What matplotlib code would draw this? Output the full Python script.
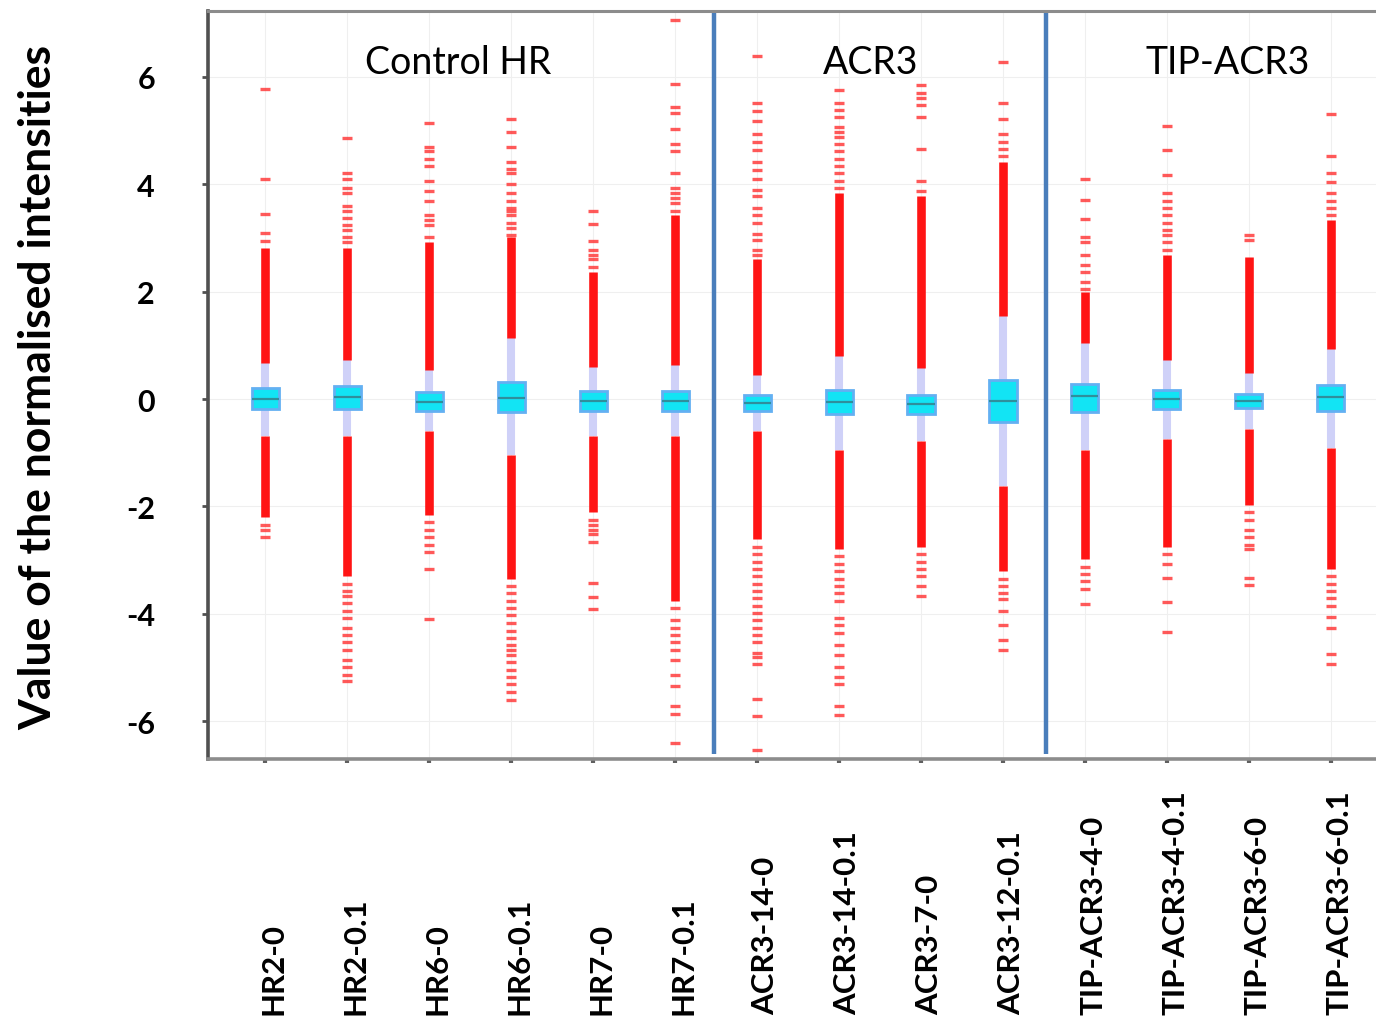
import matplotlib
matplotlib.use("Agg")
import matplotlib.pyplot as plt
import numpy as np

plt.rcParams['font.family'] = ['Lato', 'DejaVu Sans']

# sample names, in plotting order
names = ["HR2-0", "HR2-0.1", "HR6-0", "HR6-0.1", "HR7-0", "HR7-0.1",
         "ACR3-14-0", "ACR3-14-0.1", "ACR3-7-0", "ACR3-12-0.1",
         "TIP-ACR3-4-0", "TIP-ACR3-4-0.1", "TIP-ACR3-6-0", "TIP-ACR3-6-0.1"]

groups = ["Control HR", "ACR3", "TIP-ACR3"]
group_centres = [2.35, 7.38, 11.74]
separators = [5.48, 9.52]

# box stats
medians = [0.00, 0.03, -0.05, 0.02, -0.04, -0.04, -0.07, -0.05, -0.10, -0.04, 0.05, 0.00, -0.03, 0.04]
q1 = [-0.19, -0.19, -0.22, -0.24, -0.22, -0.22, -0.22, -0.28, -0.28, -0.42, -0.24, -0.19, -0.16, -0.22]
q3 = [0.20, 0.24, 0.13, 0.31, 0.15, 0.15, 0.08, 0.16, 0.08, 0.36, 0.28, 0.17, 0.10, 0.27]
whis_lo = [-0.69, -0.68, -0.60, -1.04, -0.68, -0.69, -0.60, -0.95, -0.79, -1.61, -0.95, -0.74, -0.56, -0.92]
whis_hi = [0.68, 0.72, 0.54, 1.13, 0.60, 0.63, 0.45, 0.81, 0.58, 1.54, 1.04, 0.72, 0.48, 0.93]

# where the solid runs of outliers end
dense_top = [2.82, 2.82, 2.92, 3.01, 2.37, 3.42, 2.60, 3.83, 3.78, 4.42, 2.00, 2.69, 2.64, 3.33]
dense_bottom = [-2.20, -3.30, -2.16, -3.35, -2.11, -3.76, -2.61, -2.80, -2.75, -3.21, -2.98, -2.75, -1.97, -3.16]

# separate outlier dashes beyond the solid runs
fliers = [
    [5.77, 4.10, 3.44, 3.10, 2.94, -2.34, -2.43, -2.57],
    [4.86, 4.20, 4.10, 3.92, 3.83, 3.60, 3.51, 3.37, 3.24, 3.14, 3.01, 2.92,
     -3.44, -3.57, -3.67, -3.80, -3.94, -4.08, -4.26, -4.40, -4.53, -4.67, -4.85, -4.99, -5.13, -5.25],
    [5.14, 4.70, 4.61, 4.47, 4.33, 4.06, 3.88, 3.69, 3.42, 3.33, 3.24, 3.01,
     -2.29, -2.43, -2.57, -2.71, -2.84, -3.16, -4.10],
    [5.22, 4.97, 4.70, 4.42, 4.29, 4.20, 4.01, 3.83, 3.69, 3.56, 3.51, 3.42, 3.28, 3.19, 3.05,
     -3.48, -3.62, -3.76, -3.89, -4.03, -4.17, -4.31, -4.44, -4.58, -4.67, -4.76, -4.90,
     -5.04, -5.17, -5.31, -5.45, -5.61],
    [3.51, 3.25, 2.94, 2.78, 2.69, 2.60, 2.46,
     -2.25, -2.34, -2.43, -2.52, -2.66, -3.42, -3.69, -3.91],
    [7.06, 5.87, 5.43, 5.32, 5.02, 4.74, 4.61, 4.20, 3.92, 3.83, 3.74, 3.65, 3.51,
     -3.89, -4.12, -4.26, -4.40, -4.53, -4.67, -4.85, -5.13, -5.35, -5.72, -5.86, -6.41],
    [6.39, 5.52, 5.36, 5.17, 4.93, 4.79, 4.63, 4.42, 4.26, 4.10, 3.89, 3.78, 3.56, 3.42,
     3.28, 3.07, 2.96, 2.78, 2.69,
     -2.75, -2.89, -3.03, -3.16, -3.30, -3.44, -3.57, -3.71, -3.85, -3.98, -4.12, -4.26,
     -4.40, -4.53, -4.72, -4.81, -4.94, -5.58, -5.90, -6.54],
    [5.75, 5.52, 5.38, 5.25, 5.06, 4.97, 4.88, 4.74, 4.61, 4.47, 4.33, 4.20, 4.06, 3.92,
     -2.93, -3.07, -3.21, -3.35, -3.48, -3.62, -3.76, -4.08, -4.21, -4.35, -4.58, -4.76,
     -4.99, -5.17, -5.31, -5.72, -5.89],
    [5.84, 5.70, 5.61, 5.48, 5.25, 4.65, 4.06, 3.88,
     -2.89, -3.03, -3.16, -3.30, -3.48, -3.67],
    [6.27, 5.52, 5.22, 4.93, 4.79, 4.65, 4.52,
     -3.35, -3.48, -3.62, -3.73, -3.94, -4.21, -4.49, -4.67],
    [4.10, 3.71, 3.35, 3.01, 2.92, 2.69, 2.50, 2.37, 2.18, 2.05,
     -3.12, -3.25, -3.39, -3.53, -3.82],
    [5.08, 4.63, 4.18, 3.83, 3.69, 3.56, 3.42, 3.28, 3.14, 3.05, 2.92, 2.78,
     -2.89, -3.07, -3.33, -3.78, -4.33],
    [3.05, 2.96, -2.11, -2.25, -2.43, -2.57, -2.71, -2.80, -3.33, -3.46],
    [5.31, 4.53, 4.20, 4.04, 3.83, 3.69, 3.56, 3.42,
     -3.30, -3.44, -3.57, -3.71, -3.85, -4.06, -4.26, -4.74, -4.94],
]

y_ticks = [-6, -4, -2, 0, 2, 4, 6]

positions = np.arange(len(names))

fig = plt.figure(figsize=(13.76, 10.2), dpi=100)
ax = fig.add_axes([0.151, 0.255, 0.849, 0.733])

stats = []
for i in range(len(names)):
    stats.append({"med": medians[i], "q1": q1[i], "q3": q3[i],
                  "whislo": whis_lo[i], "whishi": whis_hi[i], "fliers": fliers[i]})

ax.bxp(stats, positions=positions, widths=0.33, patch_artist=True, showcaps=False,
       boxprops=dict(facecolor="#12e4f4", edgecolor="#63b0f2", linewidth=2, zorder=5),
       medianprops=dict(color="#2f8f9c", linewidth=1.6, zorder=6),
       whiskerprops=dict(color="#cfd1f8", linewidth=5.8, zorder=3, solid_capstyle="butt"),
       flierprops=dict(marker="_", markersize=7, markeredgewidth=2.4,
                       markeredgecolor="#ff3030", alpha=0.8, zorder=4))

# solid runs of outliers
ax.vlines(positions, whis_hi, dense_top, color="#ff1414", linewidth=6.2, zorder=4)
ax.vlines(positions, dense_bottom, whis_lo, color="#ff1414", linewidth=6.2, zorder=4)

# group separators and titles
ax.vlines(separators, -6.6, 7.18, color="#4a7ebb", linewidth=3.2, zorder=7)
for g, xc in zip(groups, group_centres):
    ax.text(xc, 6.27, g, ha="center", va="center", fontsize=27, color="black", zorder=8)

ax.set_xlim(-0.7, 13.55)
ax.set_ylim(-6.7, 7.22)

ax.set_yticks(y_ticks)
ax.set_yticklabels([str(v) for v in y_ticks], fontsize=22, fontweight="bold")
ax.tick_params(axis="y", length=4, width=2, color="#505050", pad=34)
ax.set_xticks(positions)
ax.set_xticklabels([""] * len(names))
ax.tick_params(axis="x", length=3, width=3, color="#606060")

ax.grid(True, color="#efefef", linewidth=0.8, zorder=0)
ax.set_axisbelow(True)

ax.spines["left"].set_color("#505050")
ax.spines["left"].set_linewidth(2.6)
ax.spines["bottom"].set_color("#8c8c8c")
ax.spines["bottom"].set_linewidth(2.6)
ax.spines["top"].set_color("#8c8c8c")
ax.spines["top"].set_linewidth(2.2)
ax.spines["right"].set_visible(False)

for p, n in zip(positions, names):
    ax.text(p + 0.1, -0.341, n, transform=ax.get_xaxis_transform(), rotation=90,
            ha="center", va="bottom", fontsize=22.5, fontweight="bold")

fig.text(0.028, 0.62, "Value of the normalised intensities", rotation=90,
         ha="center", va="center", fontsize=32, fontweight="bold")

fig.savefig("out.png", dpi=100)
